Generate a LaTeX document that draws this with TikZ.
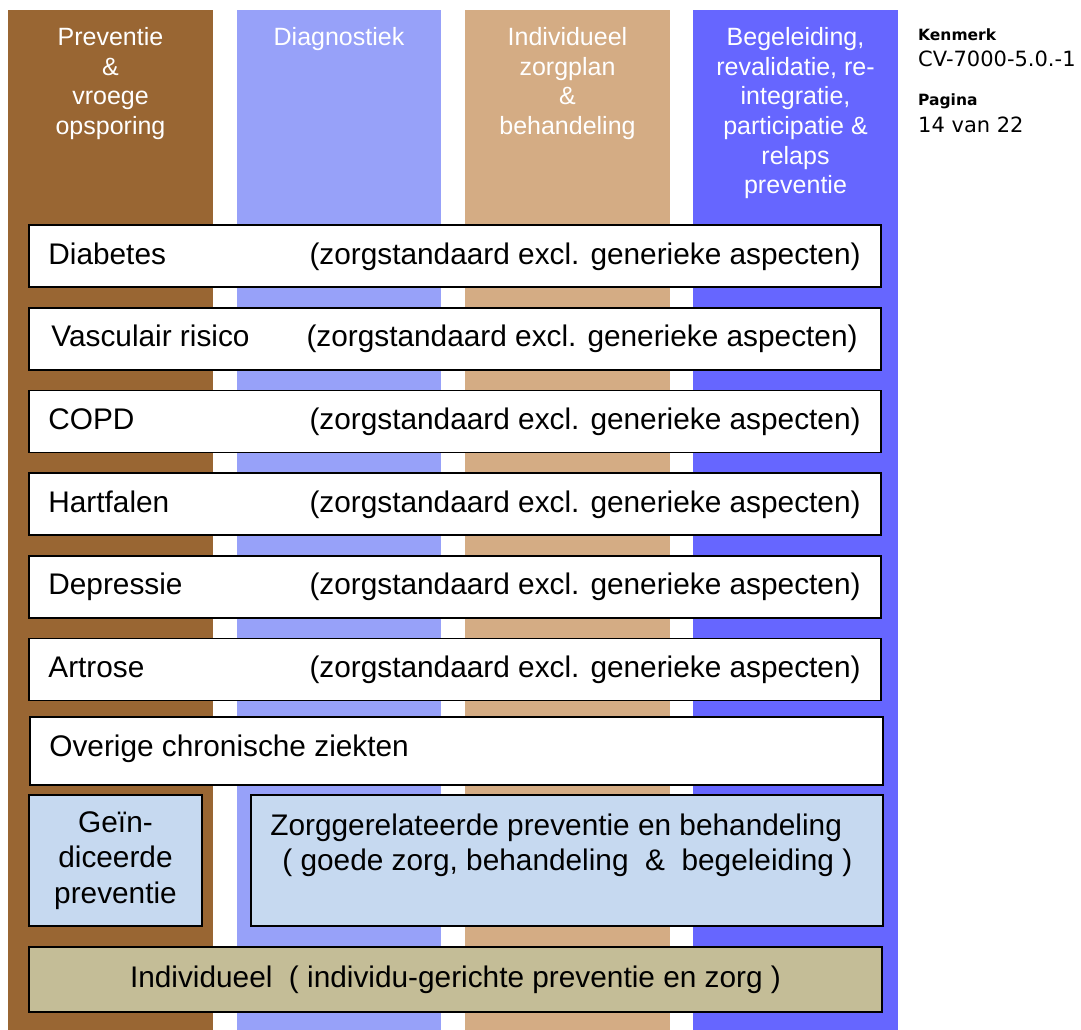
\documentclass[tikz,border=0pt]{standalone}
\usepackage{fontspec}
\setmainfont{Liberation Sans}
\newfontfamily\kenfont{DejaVu Sans}
\definecolor{colbrown}{RGB}{153,102,51}
\definecolor{colperi}{RGB}{151,161,249}
\definecolor{coltan}{RGB}{212,172,132}
\definecolor{colviolet}{RGB}{102,102,255}
\definecolor{boxblue}{RGB}{198,217,240}
\definecolor{boxkhaki}{RGB}{196,189,151}
\tikzset{
	colhead/.style={anchor=north, inner sep=0pt, align=center, text=white, font=\fontsize{25}{29.7}\selectfont},
	rowbox/.style={draw=black, line width=1.6pt, fill=white, minimum width=852pt, minimum height=62pt, inner sep=0pt},
	boxtext/.style={inner sep=0pt, font=\fontsize{29.8}{35.5}\selectfont},
	kenhead/.style={anchor=base west, inner sep=0pt, font={\kenfont\bfseries\fontsize{15.5}{18}\selectfont}},
	kenval/.style={anchor=base west, inner sep=0pt, font={\kenfont\fontsize{21}{25}\selectfont}},
}
\begin{document}
\begin{tikzpicture}[x=1pt, y=-1pt]
	\useasboundingbox (0,0) rectangle (1081,1030);
	% kolommen
	\fill[colbrown]  (8,10)   rectangle (213,1030);
	\fill[colperi]   (237,10) rectangle (441,1030);
	\fill[coltan]    (465,10) rectangle (670,1030);
	\fill[colviolet] (693,10) rectangle (898,1030);
	\node[colhead] at (110.5, 27) (h1) {Preventie\\\&\\vroege\\opsporing};
	\node[colhead] at (339, 27) (h2) {Diagnostiek};
	\node[colhead] at (567.5, 27) (h3) {Individueel\\zorgplan\\\&\\behandeling};
	\node[colhead] at (795.5, 27) (h4) {Begeleiding,\\revalidatie, re-\\integratie,\\participatie \&\\relaps\\preventie};

	% ziektebeelden
	\foreach \lbl/\dx/\rx [count=\i from 0] in {Diabetes/20/21, Vasculair risico/23/24, COPD/20/21, Hartfalen/20/21, Depressie/20/21, Artrose/20/21} {
		\node[rowbox] at (455, 256+82.7*\i) (r\i) {};
		\node[boxtext, anchor=base west] at ([xshift=\dx pt, yshift=-8pt]r\i.west) (l\i) {\lbl};
		\node[boxtext, anchor=base east] at ([xshift=-\rx pt, yshift=-8pt]r\i.east) (z\i) {(zorgstandaard excl. generieke aspecten)};
	}
	\node[rowbox, minimum width=853pt, minimum height=68pt] at (456.5, 751) (ov) {};
	\node[boxtext, anchor=base west] at ([xshift=20pt, yshift=-5pt]ov.west) (ovt) {Overige chronische ziekten};

	% onderste blokken
	\node[boxtext, draw=black, line width=1.6pt, fill=boxblue, align=center, minimum width=173pt, minimum height=131pt] at (115.5, 860.5) (gi) {Geïn-\\diceerde\\preventie};
	\node[draw=black, line width=1.6pt, fill=boxblue, minimum width=632pt, minimum height=131pt] at (567, 860.5) (zg) {};
	\node[boxtext, anchor=north west, align=left] at ([xshift=20pt, yshift=-19pt]zg.north west) (zgt) {Zorggerelateerde preventie en behandeling\\\hspace*{12pt}( goede zorg, behandeling\ \ \&\ \ begeleiding )};
	\node[boxtext, draw=black, line width=1.6pt, fill=boxkhaki, minimum width=853pt, minimum height=65pt] at (455.5, 979.5) (ind) {Individueel\ \ ( individu-gerichte preventie en zorg )};

	% kenmerk
	\node[kenhead] at (918, 41) (km) {Kenmerk};
	\node[kenval] at (918, 67) (kv) {CV-7000-5.0.-1};
	\node[kenhead] at (918, 106) (pg) {Pagina};
	\node[kenval] at (918, 132) (pv) {14 van 22};
\end{tikzpicture}
\end{document}
